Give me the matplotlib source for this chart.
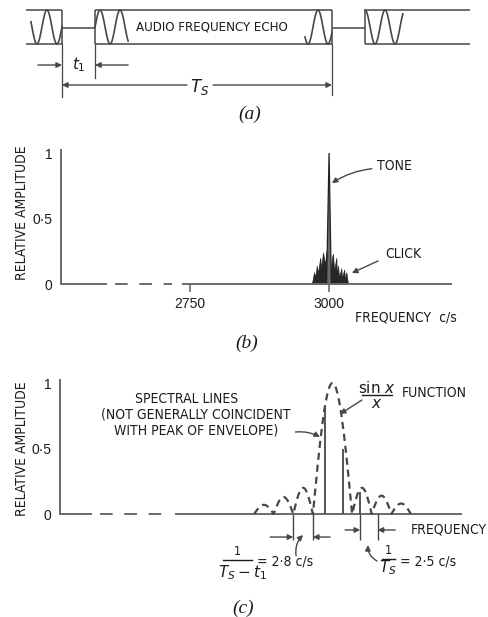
import numpy as np
import matplotlib
matplotlib.use("Agg")
import matplotlib.pyplot as plt
from matplotlib import font_manager

# ---------------------------------------------------------------- style
W, H = 488, 617
INK = "#1c1c1c"
LINE = "#474747"
AXIS = "#6a6a6a"

_names = {f.name for f in font_manager.fontManager.ttflist}
LETTER = "DejaVu Sans"          # condensed cut, set per call
LSIZE = 10.0
DIGIT = "Liberation Sans" if "Liberation Sans" in _names else "DejaVu Sans"
SERIF = "Liberation Serif" if "Liberation Serif" in _names else "DejaVu Serif"
plt.rcParams["mathtext.fontset"] = "dejavusans"

# ---------------------------------------------------------------- data
# (a) echo timing, ms
t1 = 49.0                 # gap between successive echoes
Ts = 400.0                # repetition period
carrier_period = 29.6     # drawn tone period (schematic)
train_start, train_end = -53.0, 604.0
wave_start = [-46.0, t1, Ts - 40.0, Ts + t1]
wave_end = [0.0, t1 + 49.0, Ts, Ts + t1 + 56.0]
wave_phase = [0.45, 0.0, 0.6, 0.25]       # cycles at fragment start

# (b) spectrum of tone + clicks, c/s
b_ticks = [2750, 3000]
tone_freq = [2995.5, 3000.0, 3004.0]
tone_amp = [0.0, 1.0, 0.0]
click_freq = [2969, 2973, 2975, 2978, 2980, 2984, 2986, 2989, 2993, 2995, 2997,
              3003, 3005, 3007, 3009, 3013, 3014, 3016, 3018, 3022, 3023, 3027,
              3029, 3031, 3034]
click_amp = [0.0, 0.09, 0.05, 0.14, 0.08, 0.20, 0.12, 0.24, 0.15, 0.25, 0.10,
             0.10, 0.20, 0.23, 0.10, 0.20, 0.06, 0.14, 0.05, 0.12, 0.04, 0.11,
             0.03, 0.09, 0.0]

# (c) envelope lobes (offset from envelope peak, c/s) and spectral lines
env_centre = 3000.0
lobe_edges = [-11.2, -8.4, -5.6, -2.8, 2.8, 5.6, 8.4, 11.2]
lobe_peaks = [0.07, 0.13, 0.20, 1.0, 0.20, 0.14, 0.08]
line_offsets = [-1.05, 1.45, 3.95]
line_amps = [0.81, 0.50, 0.17]
lobe_width = 2.8      # 1/(Ts - t1)
line_spacing = 2.5    # 1/Ts

ytick_vals = [0, 0.5, 1]
ytick_text = ["0", "0\u00b75", "1"]


def fxy(px, py):
    return px / W, 1 - py / H


def letter(ax, x, y, s, size=LSIZE, **kw):
    kw.setdefault("va", "center")
    kw.setdefault("ha", "left")
    return ax.text(x, y, s, family=LETTER, stretch="condensed",
                   fontsize=size, color=INK, **kw)


def arrow(ax, tip, tail, rad=0.0, lw=1.0, ms=8):
    ax.annotate("", xy=tip, xytext=tail, annotation_clip=False,
                arrowprops=dict(arrowstyle="-|>", color=LINE, lw=lw,
                                mutation_scale=ms, shrinkA=0, shrinkB=0,
                                connectionstyle=f"arc3,rad={rad}"))


fig = plt.figure(figsize=(W / 100, H / 100), dpi=100)
fig.patch.set_facecolor("white")

# ================================================================ (a)
ax_a = fig.add_axes([0, 1 - 110 / H, 1, 110 / H])
ax_a.set_xlim(-91.85, 631.1)
ax_a.set_ylim(-4.88, 1.588)
ax_a.axis("off")
kw = dict(color=LINE, lw=1.1, solid_capstyle="butt")
for level in (1, -1):
    ax_a.plot([train_start, 0], [level, level], **kw)
    ax_a.plot([t1, Ts], [level, level], **kw)
    ax_a.plot([Ts + t1, train_end], [level, level], **kw)
for edge in (0, t1, Ts, Ts + t1):
    ax_a.plot([edge, edge], [-1, 1], **kw)
ax_a.plot([0, t1], [-0.05, -0.05], **kw)
ax_a.plot([Ts, Ts + t1], [-0.05, -0.05], **kw)
for s, e, ph in zip(wave_start, wave_end, wave_phase):
    t = np.linspace(s, e, 120)
    ax_a.plot(t, np.sin(2 * np.pi * ((t - s) / carrier_period + ph)),
              color=LINE, lw=1.2)
letter(ax_a, (t1 + Ts) / 2 - 2, 0.0, "AUDIO FREQUENCY ECHO", size=9.5, ha="center")

# dimension marks
ax_a.plot([0, 0], [-1, -4.12], color=LINE, lw=0.9)
ax_a.plot([t1, t1], [-1, -3.0], color=LINE, lw=0.9)
ax_a.plot([Ts, Ts], [-1, -4.0], color=LINE, lw=0.9)
y_t1, y_ts = -2.235, -3.41
arrow(ax_a, (0, y_t1), (-35.6, y_t1))
arrow(ax_a, (t1, y_t1), (t1 + 49, y_t1))
ax_a.text(t1 / 2, y_t1, r"$t_1$", fontsize=11, color=INK, ha="center", va="center")
arrow(ax_a, (0, y_ts), (Ts / 2 - 15, y_ts))
arrow(ax_a, (Ts, y_ts), (Ts / 2 + 24, y_ts))
ax_a.text(Ts / 2 + 4, y_ts - 0.1, r"$T_S$", fontsize=12, color=INK, ha="center", va="center")


# ================================================================ axes b / c
def spectrum_axes(rect, xlim, solid, dashed):
    ax = fig.add_axes(rect)
    ax.set_xlim(*xlim)
    ax.set_ylim(0, 1.023)
    for sp in ("top", "right", "bottom"):
        ax.spines[sp].set_visible(False)
    ax.spines["left"].set_color(AXIS)
    ax.spines["left"].set_linewidth(1.4)
    ax.set_yticks(ytick_vals)
    ax.set_yticklabels(ytick_text)
    ax.tick_params(axis="y", length=0, pad=6, labelsize=10,
                   labelcolor=INK, labelfontfamily=DIGIT)
    for a, b in solid:
        ax.plot([a, b], [0, 0], color=AXIS, lw=1.4, clip_on=False,
                solid_capstyle="butt")
    ax.plot(dashed, [0, 0], color=AXIS, lw=1.4, clip_on=False,
            linestyle=(0, (6.5, 6)))
    ax.patch.set_visible(False)
    return ax


# ---------------------------------------------------------------- (b)
ax_b = spectrum_axes([61 / W, 1 - 284 / H, 391 / W, 134 / H], (2518, 3221),
                     [(2518, 2601), (2735, 3221)], [2615, 2717])
ax_b.set_xticks(b_ticks)
ax_b.set_xticklabels([str(v) for v in b_ticks])
ax_b.tick_params(axis="x", length=6, width=1.2, color=AXIS, pad=3,
                 labelsize=10, labelcolor=INK, labelfontfamily=DIGIT)
ax_b.fill_between(click_freq, click_amp, color="#262626", lw=0.5)
ax_b.fill(tone_freq, tone_amp, facecolor="#6a6a6a", edgecolor="#222222", lw=0.9)
letter(ax_b, 3086, 0.90, "TONE")
arrow(ax_b, (3005, 0.77), (3077, 0.88), rad=0.12)
letter(ax_b, 3101, 0.23, "CLICK")
arrow(ax_b, (3041, 0.084), (3088, 0.176))
letter(ax_b, 3047, -0.252, "FREQUENCY  c/s")
fig.text(*fxy(22, 213), "RELATIVE AMPLITUDE", rotation=90, ha="center",
         va="center", family=LETTER, stretch="condensed", fontsize=LSIZE, color=INK)

# ---------------------------------------------------------------- (c)
xc = env_centre
ax_c = spectrum_axes([60 / W, 1 - 514 / H, 402 / W, 134 / H],
                     (xc - 38.93, xc + 18.5),
                     [(xc - 38.93, xc - 34.36), (xc - 22.5, xc + 18.5)],
                     [xc - 33.2, xc - 23.6])
ax_c.set_xticks([])
# sin x / x envelope, lobe by lobe
env_x, env_y = [], []
for a, b, h in zip(lobe_edges[:-1], lobe_edges[1:], lobe_peaks):
    u = np.linspace(0, 1, 60)
    env_x.append(xc + a + (b - a) * u)
    env_y.append(h * np.sin(np.pi * u))
ax_c.plot(np.concatenate(env_x), np.concatenate(env_y), color=LINE, lw=1.6,
          linestyle=(0, (3.2, 2.2)), clip_on=False)
ax_c.vlines([xc + o for o in line_offsets], 0, line_amps, color=LINE, lw=1.3)

# dimension lines below the axis
y_dim_l, y_dim_r, y_ext = -0.176, -0.122, -0.2
lw_l = xc + lobe_edges[2]
lw_r = lw_l + lobe_width
ls_l = xc + line_offsets[2]
ls_r = ls_l + line_spacing
ax_c.vlines([lw_l, lw_r, ls_l, ls_r], y_ext, 0, color=LINE, lw=1.0, clip_on=False)
arrow(ax_c, (lw_l, y_dim_l), (lw_l - 3.3, y_dim_l))
arrow(ax_c, (lw_r, y_dim_l), (lw_r + 2.45, y_dim_l))
arrow(ax_c, (ls_l, y_dim_r), (ls_l - 2.15, y_dim_r))
arrow(ax_c, (ls_r, y_dim_r), (ls_r + 2.5, y_dim_r))
letter(ax_c, xc + 11.2, -0.122, "FREQUENCY")

# 1/(Ts - t1) label
letter(ax_c, xc - 13.6, -0.285, "1", size=LSIZE - 1, ha="center")
ax_c.plot([xc - 15.64, xc - 11.5], [-0.35, -0.35], color=INK, lw=1.0, clip_on=False)
ax_c.text(xc - 12.9, -0.445, r"$T_S - t_1$", fontsize=11, color=INK,
          ha="center", va="center")
letter(ax_c, xc - 10.8, -0.366, "= 2\u00b78 c/s")
arrow(ax_c, (xc - 4.2, -0.16), (xc - 5.2, -0.32), rad=-0.25)

# 1/Ts label
letter(ax_c, xc + 7.95, -0.275, "1", size=LSIZE - 1, ha="center")
ax_c.plot([xc + 7.0, xc + 8.95], [-0.343, -0.343], color=INK, lw=1.0, clip_on=False)
ax_c.text(xc + 7.95, -0.41, r"$T_S$", fontsize=11, color=INK,
          ha="center", va="center")
letter(ax_c, xc + 9.64, -0.366, "= 2\u00b75 c/s")
arrow(ax_c, (xc + 5.07, -0.237), (xc + 6.36, -0.359), rad=-0.3)

# notes above the curve
letter(ax_c, xc - 20.9, 0.878, "SPECTRAL LINES", ha="center")
letter(ax_c, xc - 19.5, 0.756, "(NOT GENERALLY COINCIDENT", ha="center")
letter(ax_c, xc - 19.5, 0.634, "WITH PEAK OF ENVELOPE)", ha="center")
arrow(ax_c, (xc - 1.8, 0.588), (xc - 5.3, 0.626), rad=-0.15)
ax_c.text(xc + 6.36, 0.965, r"$\sin\,x$", fontsize=11, color=INK,
          ha="center", va="center")
ax_c.plot([xc + 4.2, xc + 8.5], [0.905, 0.905], color=INK, lw=1.0, clip_on=False)
ax_c.text(xc + 6.36, 0.845, r"$x$", fontsize=11, color=INK,
          ha="center", va="center")
letter(ax_c, xc + 9.93, 0.924, "FUNCTION")
arrow(ax_c, (xc + 1.07, 0.763), (xc + 4.2, 0.87))
fig.text(*fxy(22, 449), "RELATIVE AMPLITUDE", rotation=90, ha="center",
         va="center", family=LETTER, stretch="condensed", fontsize=LSIZE, color=INK)

# panel captions
for (px, py), cap in zip([(250, 114), (247, 343), (243, 608)], ["(a)", "(b)", "(c)"]):
    fig.text(*fxy(px, py), cap, family=SERIF, style="italic", fontsize=14,
             color=INK, ha="center", va="center")

fig.savefig("out.png", dpi=100, facecolor="white")
